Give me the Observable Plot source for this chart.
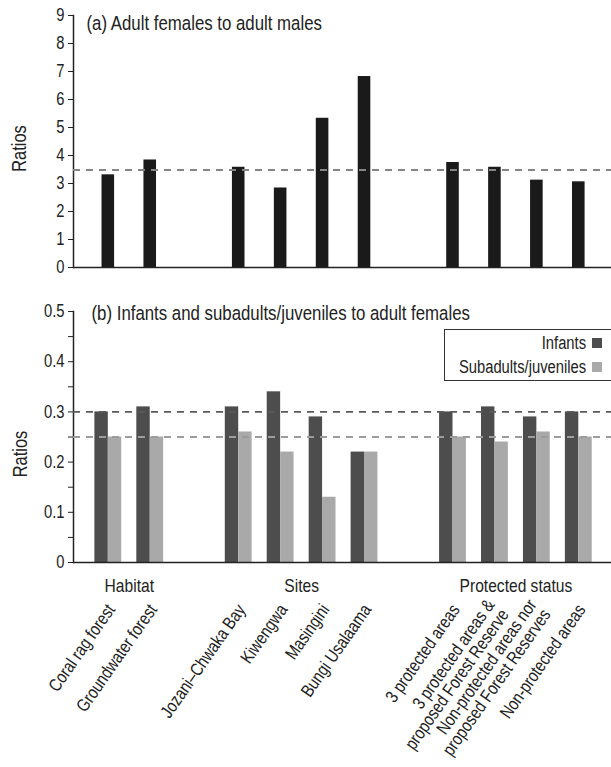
<!DOCTYPE html>
<html>
<head>
<meta charset="utf-8">
<script src="https://cdn.jsdelivr.net/npm/d3@7"></script>
<script src="https://cdn.jsdelivr.net/npm/@observablehq/plot@0.6"></script>
<style>
  html, body { margin: 0; padding: 0; background: #fff; overflow: hidden; }
  #chart { position: relative; width: 611px; height: 767px; overflow: hidden;
           font-family: "Liberation Sans", Arial, sans-serif; color: #222; }
  #chart svg { display: block; }
  .legend { position: absolute; left: 444px; top: 329px; width: 200px; height: 52px;
            border: 1.5px solid #333; box-sizing: border-box; background: #fff; }
  .legend .lab { position: absolute; right: 57px; height: 20px; line-height: 20px; font-size: 18px;
                 white-space: nowrap; color: #222; transform: scaleX(0.82); transform-origin: right center; }
  .legend .sw { position: absolute; left: 147px; width: 10px; height: 10px; }
</style>
</head>
<body>
<div id="chart"></div>
<script>
// ---------- data ----------
const groups = ["Habitat", "Sites", "Protected status"];
const categories = [
  "Coral rag forest", "Groundwater forest",
  "Jozani–Chwaka Bay", "Kiwengwa", "Masingini", "Bungi Usalaama",
  "3 protected areas", "3 protected areas &\nproposed Forest Reserve",
  "Non-protected areas nor\nproposed Forest Reserves", "Non-protected areas"
];
const categoryGroup = [
  "Habitat", "Habitat",
  "Sites", "Sites", "Sites", "Sites",
  "Protected status", "Protected status", "Protected status", "Protected status"
];
const femalesPerMale = [3.31, 3.84, 3.58, 2.84, 5.33, 6.82, 3.75, 3.58, 3.12, 3.06];
const femalesPerMaleMean = 3.48;
const infantsPerFemale = [0.30, 0.31, 0.31, 0.34, 0.29, 0.22, 0.30, 0.31, 0.29, 0.30];
const subadultsPerFemale = [0.25, 0.25, 0.26, 0.22, 0.13, 0.22, 0.25, 0.24, 0.26, 0.25];
const infantsMean = 0.30;
const subadultsMean = 0.25;
const seriesNames = ["Infants", "Subadults/juveniles"];
const seriesColors = ["#4d4d4d", "#a9a9a9"];
const topTicks = [0, 1, 2, 3, 4, 5, 6, 7, 8, 9];
const bottomTicks = [0, 0.1, 0.2, 0.3, 0.4, 0.5];
const bottomMinorTicks = [0.05, 0.15, 0.25, 0.35, 0.45];
const titleA = "(a) Adult females to adult males";
const titleB = "(b) Infants and subadults/juveniles to adult females";
const yLabel = "Ratios";

// ---------- layout ----------
const FONT = '"Liberation Sans", Arial, sans-serif';
const NARROW = 0.82;  // horizontal compression to imitate a narrow face
const GAP = 1.11;     // extra slots between groups
const rows = categories.map((c, i) => ({
  category: c,
  group: categoryGroup[i],
  slot: i + groups.indexOf(categoryGroup[i]) * GAP,
  fm: femalesPerMale[i],
  inf: infantsPerFemale[i],
  sub: subadultsPerFemale[i]
}));
const groupRows = groups.map(g => ({
  group: g,
  center: d3.mean(rows.filter(r => r.group === g), r => r.slot)
}));
const xScale = {type: "linear", domain: [-0.83, 12.0], axis: null};
const baseStyle = {fontFamily: FONT, color: "#222", background: "transparent", overflow: "visible"};

const topPlot = Plot.plot({
  width: 611, height: 270,
  marginLeft: 73, marginRight: 0, marginTop: 15, marginBottom: 3,
  style: {...baseStyle, fontSize: "17px"},
  x: xScale,
  y: {domain: [0, 9]},
  marks: [
    Plot.axisY({ticks: topTicks, tickFormat: d => String(d), tickSize: 5, tickPadding: 4, fontSize: 18, label: null, stroke: "#222"}),
    Plot.frame({anchor: "left", stroke: "#222", strokeWidth: 1.5}),
    Plot.rectY(rows, {x1: d => d.slot - 0.15, x2: d => d.slot + 0.15, y: "fm", fill: "#1a1a1a"}),
    Plot.ruleY([femalesPerMaleMean], {stroke: "#858585", strokeWidth: 2, strokeDasharray: "7,6"}),
    Plot.ruleY([0], {stroke: "#222", strokeWidth: 1.5}),
    Plot.text([titleA], {frameAnchor: "top-left", textAnchor: "start", lineAnchor: "top", dx: 13, dy: 0, fontSize: 20.5, fill: "#222"}),
    Plot.text([yLabel], {frameAnchor: "left", rotate: -90, textAnchor: "middle", lineAnchor: "bottom", dx: -48, dy: 7, fontSize: 20, fill: "#222"})
  ]
});

const bottomPlot = Plot.plot({
  width: 611, height: 497,
  marginLeft: 73, marginRight: 0, marginTop: 41, marginBottom: 205,
  style: {...baseStyle, fontSize: "17px"},
  x: xScale,
  y: {domain: [0, 0.5]},
  marks: [
    Plot.axisY({ticks: bottomTicks, tickFormat: d => String(d), tickSize: 5, tickPadding: 4, fontSize: 18, label: null, stroke: "#222"}),
    Plot.axisY({ticks: bottomMinorTicks, tickSize: 5, tickFormat: () => "", label: null, stroke: "#222"}),
    Plot.frame({anchor: "left", stroke: "#222", strokeWidth: 1.5}),
    Plot.rectY(rows, {x1: d => d.slot - 0.32, x2: d => d.slot, y: "inf", fill: seriesColors[0]}),
    Plot.rectY(rows, {x1: d => d.slot, x2: d => d.slot + 0.32, y: "sub", fill: seriesColors[1]}),
    Plot.ruleY([infantsMean], {stroke: "#5a5a5a", strokeWidth: 1.8, strokeDasharray: "7,6"}),
    Plot.ruleY([subadultsMean], {stroke: "#9c9c9c", strokeWidth: 1.8, strokeDasharray: "7,6"}),
    Plot.ruleY([0], {stroke: "#222", strokeWidth: 1.5}),
    Plot.text([titleB], {frameAnchor: "top-left", textAnchor: "start", lineAnchor: "top", dx: 18, dy: -6, fontSize: 20.5, fill: "#222"}),
    Plot.text([yLabel], {frameAnchor: "left", rotate: -90, textAnchor: "middle", lineAnchor: "bottom", dx: -47, dy: 17, fontSize: 20, fill: "#222"}),
    Plot.text(groupRows, {x: "center", text: "group", frameAnchor: "bottom", textAnchor: "middle", lineAnchor: "middle", dy: 23, fontSize: 19, fill: "#222"}),
    Plot.text(rows, {x: "slot", text: "category", frameAnchor: "bottom", rotate: -55, textAnchor: "end",
                     lineAnchor: "middle", lineHeight: 0.95, dx: 3, dy: 44, fontSize: 18, fill: "#222"})
  ]
});

const chart = document.getElementById("chart");
chart.appendChild(topPlot);
chart.appendChild(bottomPlot);

// compress glyphs horizontally (narrow face look), text stays real text
function narrow(svg, f) {
  svg.querySelectorAll("text").forEach(t => {
    const spans = t.querySelectorAll("tspan");
    const targets = spans.length ? Array.from(spans) : [t];
    targets.forEach(el => {
      const len = el.getComputedTextLength();
      if (len > 0) {
        el.setAttribute("textLength", (len * f).toFixed(2));
        el.setAttribute("lengthAdjust", "spacingAndGlyphs");
      }
    });
  });
}
narrow(topPlot, NARROW);
narrow(bottomPlot, NARROW);

// legend
const legend = document.createElement("div");
legend.className = "legend";
seriesNames.forEach((name, i) => {
  const cy = 13 + i * 24;
  const lab = document.createElement("div");
  lab.className = "lab";
  lab.style.top = (cy - 10) + "px";
  lab.textContent = name;
  const sw = document.createElement("div");
  sw.className = "sw";
  sw.style.top = (cy - 5) + "px";
  sw.style.background = seriesColors[i];
  legend.appendChild(lab);
  legend.appendChild(sw);
});
chart.appendChild(legend);
</script>
</body>
</html>
